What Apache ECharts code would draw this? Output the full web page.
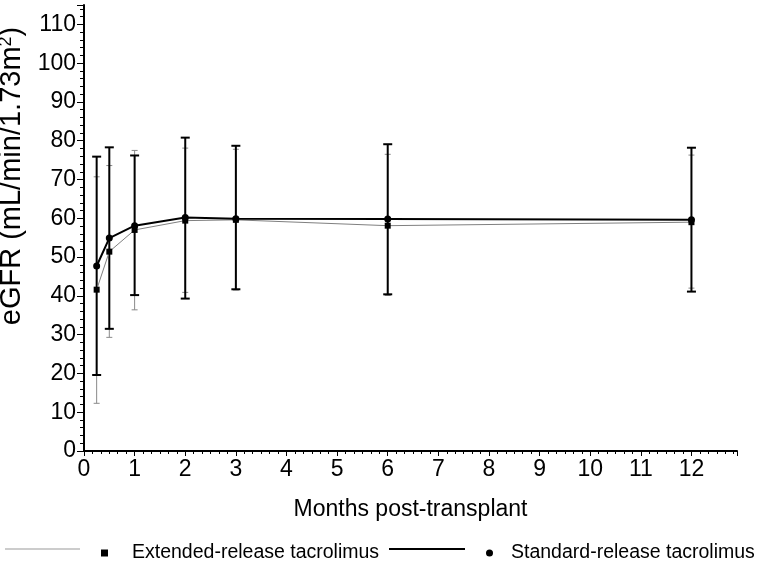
<!DOCTYPE html>
<html>
<head>
<meta charset="utf-8">
<script src="https://cdn.jsdelivr.net/npm/echarts@6/dist/echarts.min.js"></script>
<style>
html,body{margin:0;padding:0;background:#fff;}
#c{width:760px;height:564px;}
</style>
</head>
<body>
<div id="c"></div>
<script>
const months = [0.25, 0.5, 1, 2, 3, 6, 12];
const xTicks = [0, 1, 2, 3, 4, 5, 6, 7, 8, 9, 10, 11, 12];
const yTicks = [0, 10, 20, 30, 40, 50, 60, 70, 80, 90, 100, 110];

const extMean = [41.6, 51.4, 57.0, 59.4, 59.6, 58.1, 59.0];
const extLow  = [12.3, 29.3, 36.4, 40.9, 41.5, 40.1, 42.0];
const extHigh = [70.7, 73.6, 77.5, 78.1, 77.8, 76.5, 76.3];

const stdMean = [47.7, 54.9, 58.1, 60.2, 59.9, 59.8, 59.6];
const stdLow  = [19.6, 31.5, 40.2, 39.3, 41.7, 40.4, 41.1];
const stdHigh = [75.9, 78.3, 76.2, 80.8, 78.7, 79.1, 78.2];

const EXT = 'Extended-release tacrolimus';
const STD = 'Standard-release tacrolimus';
const FONT = 'Liberation Sans, Arial, sans-serif';

function errorBars(name, low, high, color, width, capHalf, z) {
  return {
    type: 'custom',
    name: name + ' SD',
    z: z,
    silent: true,
    data: months.map((m, i) => [m, low[i], high[i]]),
    encode: { x: 0, y: [1, 2] },
    renderItem: function (params, api) {
      const x = api.value(0);
      const lo = api.coord([x, api.value(1)]);
      const hi = api.coord([x, api.value(2)]);
      const style = { stroke: color, lineWidth: width, fill: null };
      return {
        type: 'group',
        children: [
          { type: 'line', shape: { x1: lo[0], y1: lo[1], x2: hi[0], y2: hi[1] }, style: style },
          { type: 'line', shape: { x1: lo[0] - capHalf, y1: lo[1], x2: lo[0] + capHalf, y2: lo[1] }, style: style },
          { type: 'line', shape: { x1: hi[0] - capHalf, y1: hi[1], x2: hi[0] + capHalf, y2: hi[1] }, style: style }
        ]
      };
    }
  };
}

const chart = echarts.init(document.getElementById('c'), null, { renderer: 'canvas' });
chart.setOption({
  animation: false,
  backgroundColor: '#fff',
  textStyle: { fontFamily: FONT },
  grid: { left: 84, right: 23, top: 5, bottom: 113, containLabel: false, outerBoundsMode: 'none' },
  xAxis: {
    type: 'value',
    min: 0, max: 12.9, interval: 1,
    name: 'Months post-transplant',
    nameLocation: 'middle',
    nameGap: 47,
    nameTextStyle: { fontSize: 23, color: '#000', fontFamily: FONT },
    axisLine: { show: true, onZero: false, lineStyle: { color: '#000', width: 2 } },
    axisTick: { show: true, length: 5, lineStyle: { color: '#000', width: 1 } },
    minorTick: { show: true, splitNumber: 6, length: 3, lineStyle: { color: '#000', width: 1 } },
    splitLine: { show: false },
    axisLabel: {
      fontSize: 23, color: '#000', margin: 7, fontFamily: FONT,
      showMaxLabel: false,
      formatter: v => (xTicks.indexOf(v) >= 0 ? String(v) : '')
    }
  },
  yAxis: {
    type: 'value',
    min: 0, max: 115, interval: 10,
    name: 'eGFR (mL/min/1.73m{sup|2})',
    nameLocation: 'middle',
    nameGap: 53,
    nameRotate: 90,
    nameTextStyle: {
      fontSize: 29, color: '#000', fontFamily: FONT,
      padding: [0, 0, 0, 104],
      rich: { sup: { fontSize: 18, color: '#000', fontFamily: FONT, padding: [0, 0, 12, 0] } }
    },
    axisLine: { show: true, onZero: false, lineStyle: { color: '#000', width: 2 } },
    axisTick: { show: true, length: 7, lineStyle: { color: '#000', width: 1 } },
    minorTick: { show: true, splitNumber: 5, length: 4, lineStyle: { color: '#000', width: 1 } },
    splitLine: { show: false },
    axisLabel: {
      fontSize: 23, color: '#000', margin: 8, fontFamily: FONT,
      showMaxLabel: false,
      formatter: v => (yTicks.indexOf(v) >= 0 ? String(v) : '')
    }
  },
  legend: [
    {
      data: [EXT], left: 96, top: 538, icon: 'rect', itemWidth: 7, itemHeight: 7,
      selectedMode: false,
      textStyle: { fontSize: 19.5, color: '#000', fontFamily: FONT, padding: [0, 0, 0, 19] }
    },
    {
      data: [STD], left: 481, top: 538, icon: 'circle', itemWidth: 7, itemHeight: 7,
      selectedMode: false,
      textStyle: { fontSize: 19.5, color: '#000', fontFamily: FONT, padding: [0, 0, 0, 13] }
    }
  ],
  graphic: [
    { type: 'line', shape: { x1: 5, y1: 549, x2: 80, y2: 549 }, style: { stroke: '#999', lineWidth: 1 } },
    { type: 'line', shape: { x1: 389, y1: 549, x2: 465, y2: 549 }, style: { stroke: '#000', lineWidth: 2 } }
  ],
  series: [
    errorBars(EXT, extLow, extHigh, '#8a8a8a', 1, 3, 1),
    errorBars(STD, stdLow, stdHigh, '#000', 2, 4.5, 2),
    {
      type: 'line', name: EXT, z: 3,
      data: months.map((m, i) => [m, extMean[i]]),
      symbol: 'rect', symbolSize: 6,
      itemStyle: { color: '#000' },
      lineStyle: { color: '#808080', width: 1 }
    },
    {
      type: 'line', name: STD, z: 4,
      data: months.map((m, i) => [m, stdMean[i]]),
      symbol: 'circle', symbolSize: 7,
      itemStyle: { color: '#000' },
      lineStyle: { color: '#000', width: 2 }
    }
  ]
});
</script>
</body>
</html>
